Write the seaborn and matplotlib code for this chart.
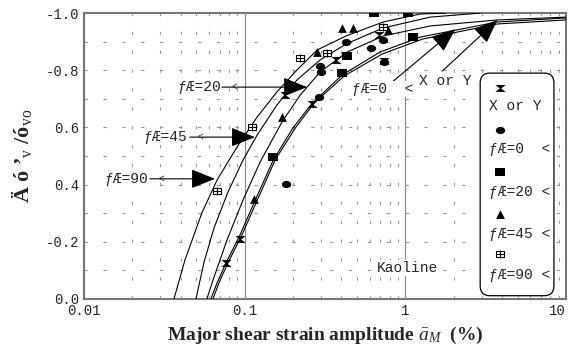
import numpy as np
import matplotlib
matplotlib.use('Agg')
import matplotlib.pyplot as plt
import seaborn as sns
from matplotlib.path import Path
from matplotlib.patches import FancyBboxPatch
from matplotlib.ticker import LogLocator, MultipleLocator, NullFormatter

# --- measured points (strain %, stress ratio) ---
xy_x = [0.077, 0.094, 0.179, 0.264, 0.371, 0.689, 0.74]
xy_y = [0.126, 0.21, 0.713, 0.682, 0.836, 0.923, 0.832]

f0_x = [0.182, 0.291, 0.295, 0.299, 0.428, 0.614, 0.73, 0.74]
f0_y = [0.402, 0.706, 0.815, 0.794, 0.899, 0.878, 0.906, 0.829]

f20_x = [0.151, 0.404, 0.436, 0.641, 1.04, 1.11]
f20_y = [0.497, 0.790, 0.850, 1.0, 1.0, 0.916]

f45_x = [0.115, 0.171, 0.283, 0.404, 0.474, 0.784]
f45_y = [0.35, 0.636, 0.864, 0.948, 0.948, 0.941]

f90_x = [0.0675, 0.111, 0.222, 0.327, 0.730]
f90_y = [0.378, 0.601, 0.843, 0.860, 0.951]

# --- fitted curves ---
c90_x = [0.0364, 0.0426, 0.0543, 0.0675, 0.0897, 0.1197, 0.159, 0.212, 0.283, 0.428, 0.730, 1.24, 1.78]
c90_y = [0, 0.136, 0.301, 0.416, 0.531, 0.636, 0.724, 0.801, 0.871, 0.920, 0.969, 0.997, 1.0]

c45_x = [0.0499, 0.0560, 0.0646, 0.0789, 0.0979, 0.1197, 0.159, 0.212, 0.295, 0.428, 0.730, 1.43, 2.93]
c45_y = [0, 0.129, 0.248, 0.374, 0.486, 0.573, 0.678, 0.766, 0.836, 0.892, 0.948, 0.986, 1.0]

c20_x = [0.0583, 0.0637, 0.0778, 0.0979, 0.125, 0.171, 0.222, 0.295, 0.436, 0.730, 1.43, 3.74, 10.0]
c20_y = [0, 0.066, 0.206, 0.346, 0.479, 0.619, 0.713, 0.794, 0.864, 0.920, 0.955, 0.976, 0.986]

c0_x = [0.0618, 0.0675, 0.0767, 0.0938, 0.1146, 0.151, 0.200, 0.264, 0.404, 0.698, 1.24, 3.74, 10.0]
c0_y = [0, 0.056, 0.126, 0.224, 0.336, 0.486, 0.598, 0.685, 0.783, 0.864, 0.916, 0.969, 0.983]

cxy_x = [0.0637, 0.0693, 0.0789, 0.0964, 0.118, 0.155, 0.207, 0.271, 0.417, 0.719, 1.28, 3.74, 10.0]
cxy_y = [0, 0.056, 0.126, 0.224, 0.336, 0.486, 0.598, 0.685, 0.780, 0.857, 0.909, 0.962, 0.976]

x_ticks = [0.01, 0.1, 1, 10]
x_tick_labels = ['0.01', '0.1', '1', '10']
y_ticks = [0.0, 0.2, 0.4, 0.6, 0.8, 1.0]
y_tick_labels = ['0.0', '-0.2', '0.4', '0.6', '-0.8', '-1.0']

legend_labels = ['X or Y', 'ƒÆ=0  <', 'ƒÆ=20 <', 'ƒÆ=45 <', 'ƒÆ=90 <']

sns.set_style('white')
plt.rcParams['font.family'] = ['Liberation Mono', 'DejaVu Sans']
plt.rcParams['mathtext.fontset'] = 'custom'
plt.rcParams['mathtext.rm'] = 'Liberation Serif'
plt.rcParams['mathtext.it'] = 'Liberation Serif:italic'
plt.rcParams['mathtext.bf'] = 'Liberation Serif:bold'

# custom marker shapes
hourglass = Path([(-1.2, 0.8), (1.2, 0.8), (0.15, 0), (1.2, -0.8), (-1.2, -0.8), (-0.15, 0), (-1.2, 0.8)], closed=True)
uc = Path.unit_circle()
ellipse = Path(uc.vertices * np.array([1.3, 1.0]), uc.codes)
rect = Path([(-1.3, -1), (1.3, -1), (1.3, 1), (-1.3, 1), (-1.3, -1)], closed=True)

fig, ax = plt.subplots(figsize=(5.7, 3.64), dpi=100)
fig.subplots_adjust(left=0.147, right=0.993, bottom=0.179, top=0.964)

# curves
for cx, cy in [(c90_x, c90_y), (c45_x, c45_y), (c20_x, c20_y), (c0_x, c0_y), (cxy_x, cxy_y)]:
    sns.lineplot(x=cx, y=cy, sort=False, estimator=None, color='black', lw=0.8, ax=ax, zorder=3)

# points
sns.scatterplot(x=xy_x, y=xy_y, marker=hourglass, color='black', s=55, linewidth=0, ax=ax, zorder=4)
sns.scatterplot(x=f0_x, y=f0_y, marker=ellipse, color='black', s=45, linewidth=0, ax=ax, zorder=4)
sns.scatterplot(x=f20_x, y=f20_y, marker=rect, color='black', s=45, linewidth=0, ax=ax, zorder=4)
sns.scatterplot(x=f45_x, y=f45_y, marker='^', color='black', s=40, linewidth=0, ax=ax, zorder=4)
sns.scatterplot(x=f90_x, y=f90_y, marker=rect, color='white', edgecolor='black', s=40, linewidth=0.8, ax=ax, zorder=4)
ax.scatter(f90_x, f90_y, marker='+', color='black', s=40, linewidths=0.8, zorder=5)

ax.set_xscale('log')
ax.set_xlim(0.01, 10)
ax.set_ylim(0, 1.0)
ax.set_xticks(x_ticks)
ax.set_xticklabels(x_tick_labels)
ax.xaxis.set_minor_locator(LogLocator(base=10, subs=np.arange(2, 10)))
ax.xaxis.set_minor_formatter(NullFormatter())
ax.set_yticks(y_ticks)
ax.set_yticklabels(y_tick_labels)
ax.yaxis.set_minor_locator(MultipleLocator(0.1))
ax.get_xticklabels()[-1].set_horizontalalignment('right')

ax.tick_params(which='both', direction='in', length=5, color='#777777', labelsize=10)
ax.tick_params(axis='x', pad=4)
ax.grid(which='minor', axis='x', ls=(0, (3, 14)), color='#999999', lw=0.8)
ax.grid(which='both', axis='y', ls=(0, (3, 14)), color='#999999', lw=0.8)
ax.grid(which='major', axis='x', ls='-', color='#888888', lw=0.8)
for sp in ax.spines.values():
    sp.set_color('#777777')
    sp.set_linewidth(1.5)

ax.set_xlabel('Major shear strain amplitude $\\bar{a}_M$  (%)', family='Liberation Serif',
              weight='bold', fontsize=14, labelpad=5)
ax.set_ylabel('Ä ó ’$_{\\rm v}$ /ó$_{\\rm vo}$', family='Liberation Serif', weight='bold',
              fontsize=16, labelpad=8)

# arrows with labels
big = dict(arrowstyle='-|>,head_length=1.5,head_width=0.6', color='black', lw=0.8, shrinkA=0, shrinkB=0)
for label, tx, ty, sx, tipx, ltx in [('ƒÆ=20', 0.052, 0.741, 0.0724, 0.245, 0.087),
                                      ('ƒÆ=45', 0.032, 0.566, 0.0457, 0.116, 0.0528),
                                      ('ƒÆ=90', 0.0183, 0.42, 0.0258, 0.0655, 0.0306)]:
    ax.text(tx, ty, label, ha='center', va='center', fontsize=10.5, zorder=6,
            bbox=dict(fc='white', ec='none', pad=0.5))
    ax.annotate('', xy=(tipx, ty), xytext=(sx, ty), arrowprops=big, zorder=6)
    ax.text(ltx, ty, '<', ha='center', va='center', fontsize=7, zorder=7)

ax.annotate('', xy=(2.05, 0.944), xytext=(0.83, 0.759), arrowprops=big, zorder=6)
ax.annotate('', xy=(3.74, 0.976), xytext=(1.70, 0.797), arrowprops=big, zorder=6)
ax.text(0.468, 0.734, 'ƒÆ=0  <', ha='left', va='center', fontsize=10.5, zorder=6,
        bbox=dict(fc='white', ec='none', pad=0.5))
ax.text(1.78, 0.762, 'X or Y', ha='center', va='center', fontsize=10.5, zorder=6,
        bbox=dict(fc='white', ec='none', pad=0.5))
ax.text(1.03, 0.108, 'Kaoline', ha='center', va='center', fontsize=10.5, zorder=6,
        bbox=dict(fc='white', ec='none', pad=0.5))

# hand-made legend box
box = FancyBboxPatch((0.822, 0.011), 0.153, 0.779, boxstyle='round,pad=0,rounding_size=0.02',
                     mutation_aspect=1.7, transform=ax.transAxes, fc='white', ec='black', lw=0.9, zorder=8)
ax.add_patch(box)
leg_markers = [(hourglass, 'black', 55), (ellipse, 'black', 45), (rect, 'black', 45), ('^', 'black', 40), (rect, 'white', 40)]
mk_y = [0.738, 0.591, 0.444, 0.297, 0.157]
tx_y = [0.675, 0.524, 0.374, 0.227, 0.084]
for (m, fc, s), my, ty, lab in zip(leg_markers, mk_y, tx_y, legend_labels):
    ax.scatter([0.863], [my], marker=m, s=s, c=fc, edgecolors='black', linewidths=0.8 if fc == 'white' else 0,
               transform=ax.transAxes, zorder=9, clip_on=False)
    ax.text(0.84, ty, lab, ha='left', va='center', fontsize=10.5, transform=ax.transAxes, zorder=9)
ax.scatter([0.863], [mk_y[-1]], marker='+', s=40, c='black', linewidths=0.8, transform=ax.transAxes, zorder=10)

plt.savefig('out.png', dpi=100)
